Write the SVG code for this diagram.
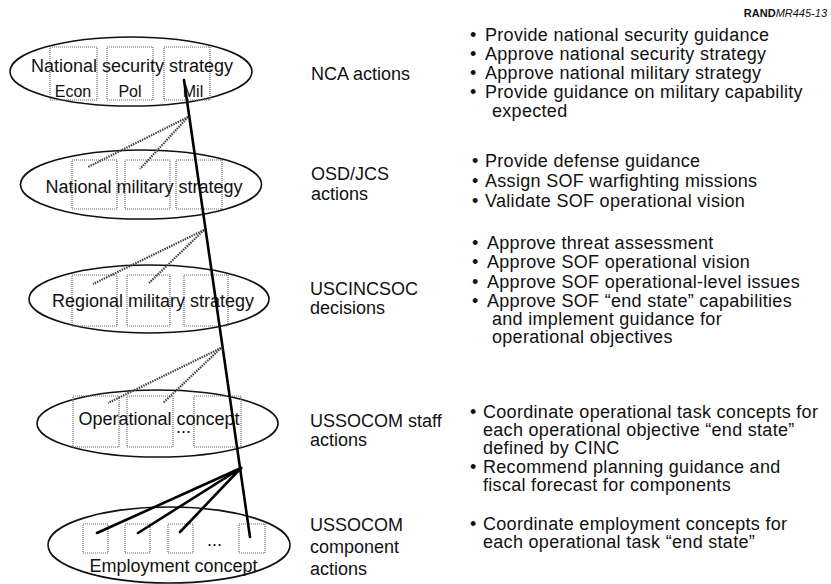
<svg xmlns="http://www.w3.org/2000/svg" width="831" height="584" viewBox="0 0 831 584">
<style>
text{font-family:"Liberation Sans",Arial,Helvetica,sans-serif;fill:#111}
.lbl{font-size:18px}
.sm{font-size:16px}
.nt{font-size:18px;letter-spacing:0.3px}
.ell{fill:none;stroke:#111;stroke-width:1.6}
.box{fill:none;stroke:#666;stroke-width:1.2;stroke-dasharray:1,1}
.dot{stroke:#444;stroke-width:2.2;stroke-dasharray:1.5,1;fill:none}
.solid{stroke:#000;stroke-width:2.6;fill:none;stroke-linecap:round}
</style>
<rect width="831" height="584" fill="#fff"/>
<text x="827" y="17" text-anchor="end" style="font-size:11px"><tspan font-weight="bold">RAND</tspan><tspan font-style="italic">MR445-13</tspan></text>

<g id="n1">
<ellipse class="ell" cx="131" cy="71.5" rx="121" ry="34.5"/>
<rect class="box" x="50" y="47" width="47" height="53"/>
<rect class="box" x="107" y="47" width="46" height="53"/>
<rect class="box" x="164" y="47" width="46" height="53"/>
<text class="lbl" x="132" y="72" text-anchor="middle">National security strategy</text>
<text class="sm" x="73" y="97" text-anchor="middle">Econ</text>
<text class="sm" x="130" y="97" text-anchor="middle">Pol</text>
<text class="sm" x="193" y="97" text-anchor="middle">Mil</text>
</g>
<g id="n2">
<ellipse class="ell" cx="141" cy="184.5" rx="120.5" ry="34.5"/>
<rect class="box" x="72" y="160" width="45" height="49"/>
<rect class="box" x="125" y="160" width="45" height="49"/>
<rect class="box" x="176" y="160" width="46" height="49"/>
<text class="lbl" x="144" y="193" text-anchor="middle">National military strategy</text>
</g>
<g id="n3">
<ellipse class="ell" cx="149" cy="299" rx="120" ry="34"/>
<rect class="box" x="72" y="275" width="45" height="51"/>
<rect class="box" x="127" y="275" width="43" height="51"/>
<rect class="box" x="184" y="275" width="44" height="51"/>
<text class="lbl" x="153" y="307" text-anchor="middle">Regional military strategy</text>
</g>
<g id="n4">
<ellipse class="ell" cx="157.5" cy="423.5" rx="120.5" ry="33.5"/>
<rect class="box" x="73" y="396" width="46" height="51"/>
<rect class="box" x="127" y="396" width="46" height="51"/>
<rect class="box" x="194" y="396" width="47" height="51"/>
<text class="lbl" x="159" y="425" text-anchor="middle">Operational concept</text>
<text class="lbl" x="176" y="433">...</text>
</g>
<g id="n5">
<ellipse class="ell" cx="169" cy="545" rx="121" ry="38"/>
<rect class="box" x="83" y="524" width="25" height="29"/>
<rect class="box" x="125" y="524" width="25" height="29"/>
<rect class="box" x="168" y="524" width="25" height="29"/>
<rect class="box" x="239" y="524" width="26" height="29"/>
<text class="lbl" x="207" y="546">...</text>
<text class="lbl" x="173.5" y="572" text-anchor="middle">Employment concept</text>
</g>

<g id="connectors">
<line class="solid" x1="184" y1="80" x2="250" y2="537"/>
<line class="dot" x1="188" y1="117" x2="88" y2="167"/>
<line class="dot" x1="188" y1="117" x2="140" y2="169"/>
<line class="dot" x1="204" y1="230" x2="93" y2="284"/>
<line class="dot" x1="204" y1="230" x2="149" y2="283"/>
<line class="dot" x1="221" y1="348" x2="108" y2="403"/>
<line class="dot" x1="221" y1="348" x2="163" y2="403"/>
<line class="solid" x1="241" y1="468" x2="97" y2="533"/>
<line class="solid" x1="241" y1="468" x2="138" y2="533"/>
<line class="solid" x1="241" y1="468" x2="180" y2="532"/>
</g>

<g id="labels" class="lbl">
<text x="311" y="80">NCA actions</text>
<text x="311" y="180">OSD/JCS</text>
<text x="311" y="200">actions</text>
<text x="310" y="295">USCINCSOC</text>
<text x="310" y="314">decisions</text>
<text x="310" y="427">USSOCOM staff</text>
<text x="310" y="446">actions</text>
<text x="310" y="531">USSOCOM</text>
<text x="310" y="553">component</text>
<text x="310" y="575">actions</text>
</g>

<g id="notes" class="nt">
<text x="470" y="41">•</text><text x="485" y="41">Provide national security guidance</text>
<text x="470" y="60">•</text><text x="485" y="60">Approve national security strategy</text>
<text x="470" y="79">•</text><text x="485" y="79">Approve national military strategy</text>
<text x="470" y="98">•</text><text x="485" y="98">Provide guidance on military capability</text>
<text x="492" y="117">expected</text>

<text x="472" y="167">•</text><text x="485" y="167">Provide defense guidance</text>
<text x="472" y="187">•</text><text x="485" y="187">Assign SOF warfighting missions</text>
<text x="472" y="207">•</text><text x="485" y="207">Validate SOF operational vision</text>

<text x="472" y="249">•</text><text x="487" y="249">Approve threat assessment</text>
<text x="472" y="268">•</text><text x="487" y="268">Approve SOF operational vision</text>
<text x="472" y="288">•</text><text x="487" y="288">Approve SOF operational-level issues</text>
<text x="472" y="307">•</text><text x="487" y="307">Approve SOF “end state” capabilities</text>
<text x="492" y="325">and implement guidance for</text>
<text x="492" y="343">operational objectives</text>

<text x="470" y="418">•</text><text x="483" y="418">Coordinate operational task concepts for</text>
<text x="483" y="436">each operational objective “end state”</text>
<text x="483" y="454">defined by CINC</text>
<text x="470" y="473">•</text><text x="483" y="473">Recommend planning guidance and</text>
<text x="483" y="491">fiscal forecast for components</text>

<text x="470" y="530">•</text><text x="483" y="530">Coordinate employment concepts for</text>
<text x="483" y="548">each operational task “end state”</text>
</g>
</svg>
